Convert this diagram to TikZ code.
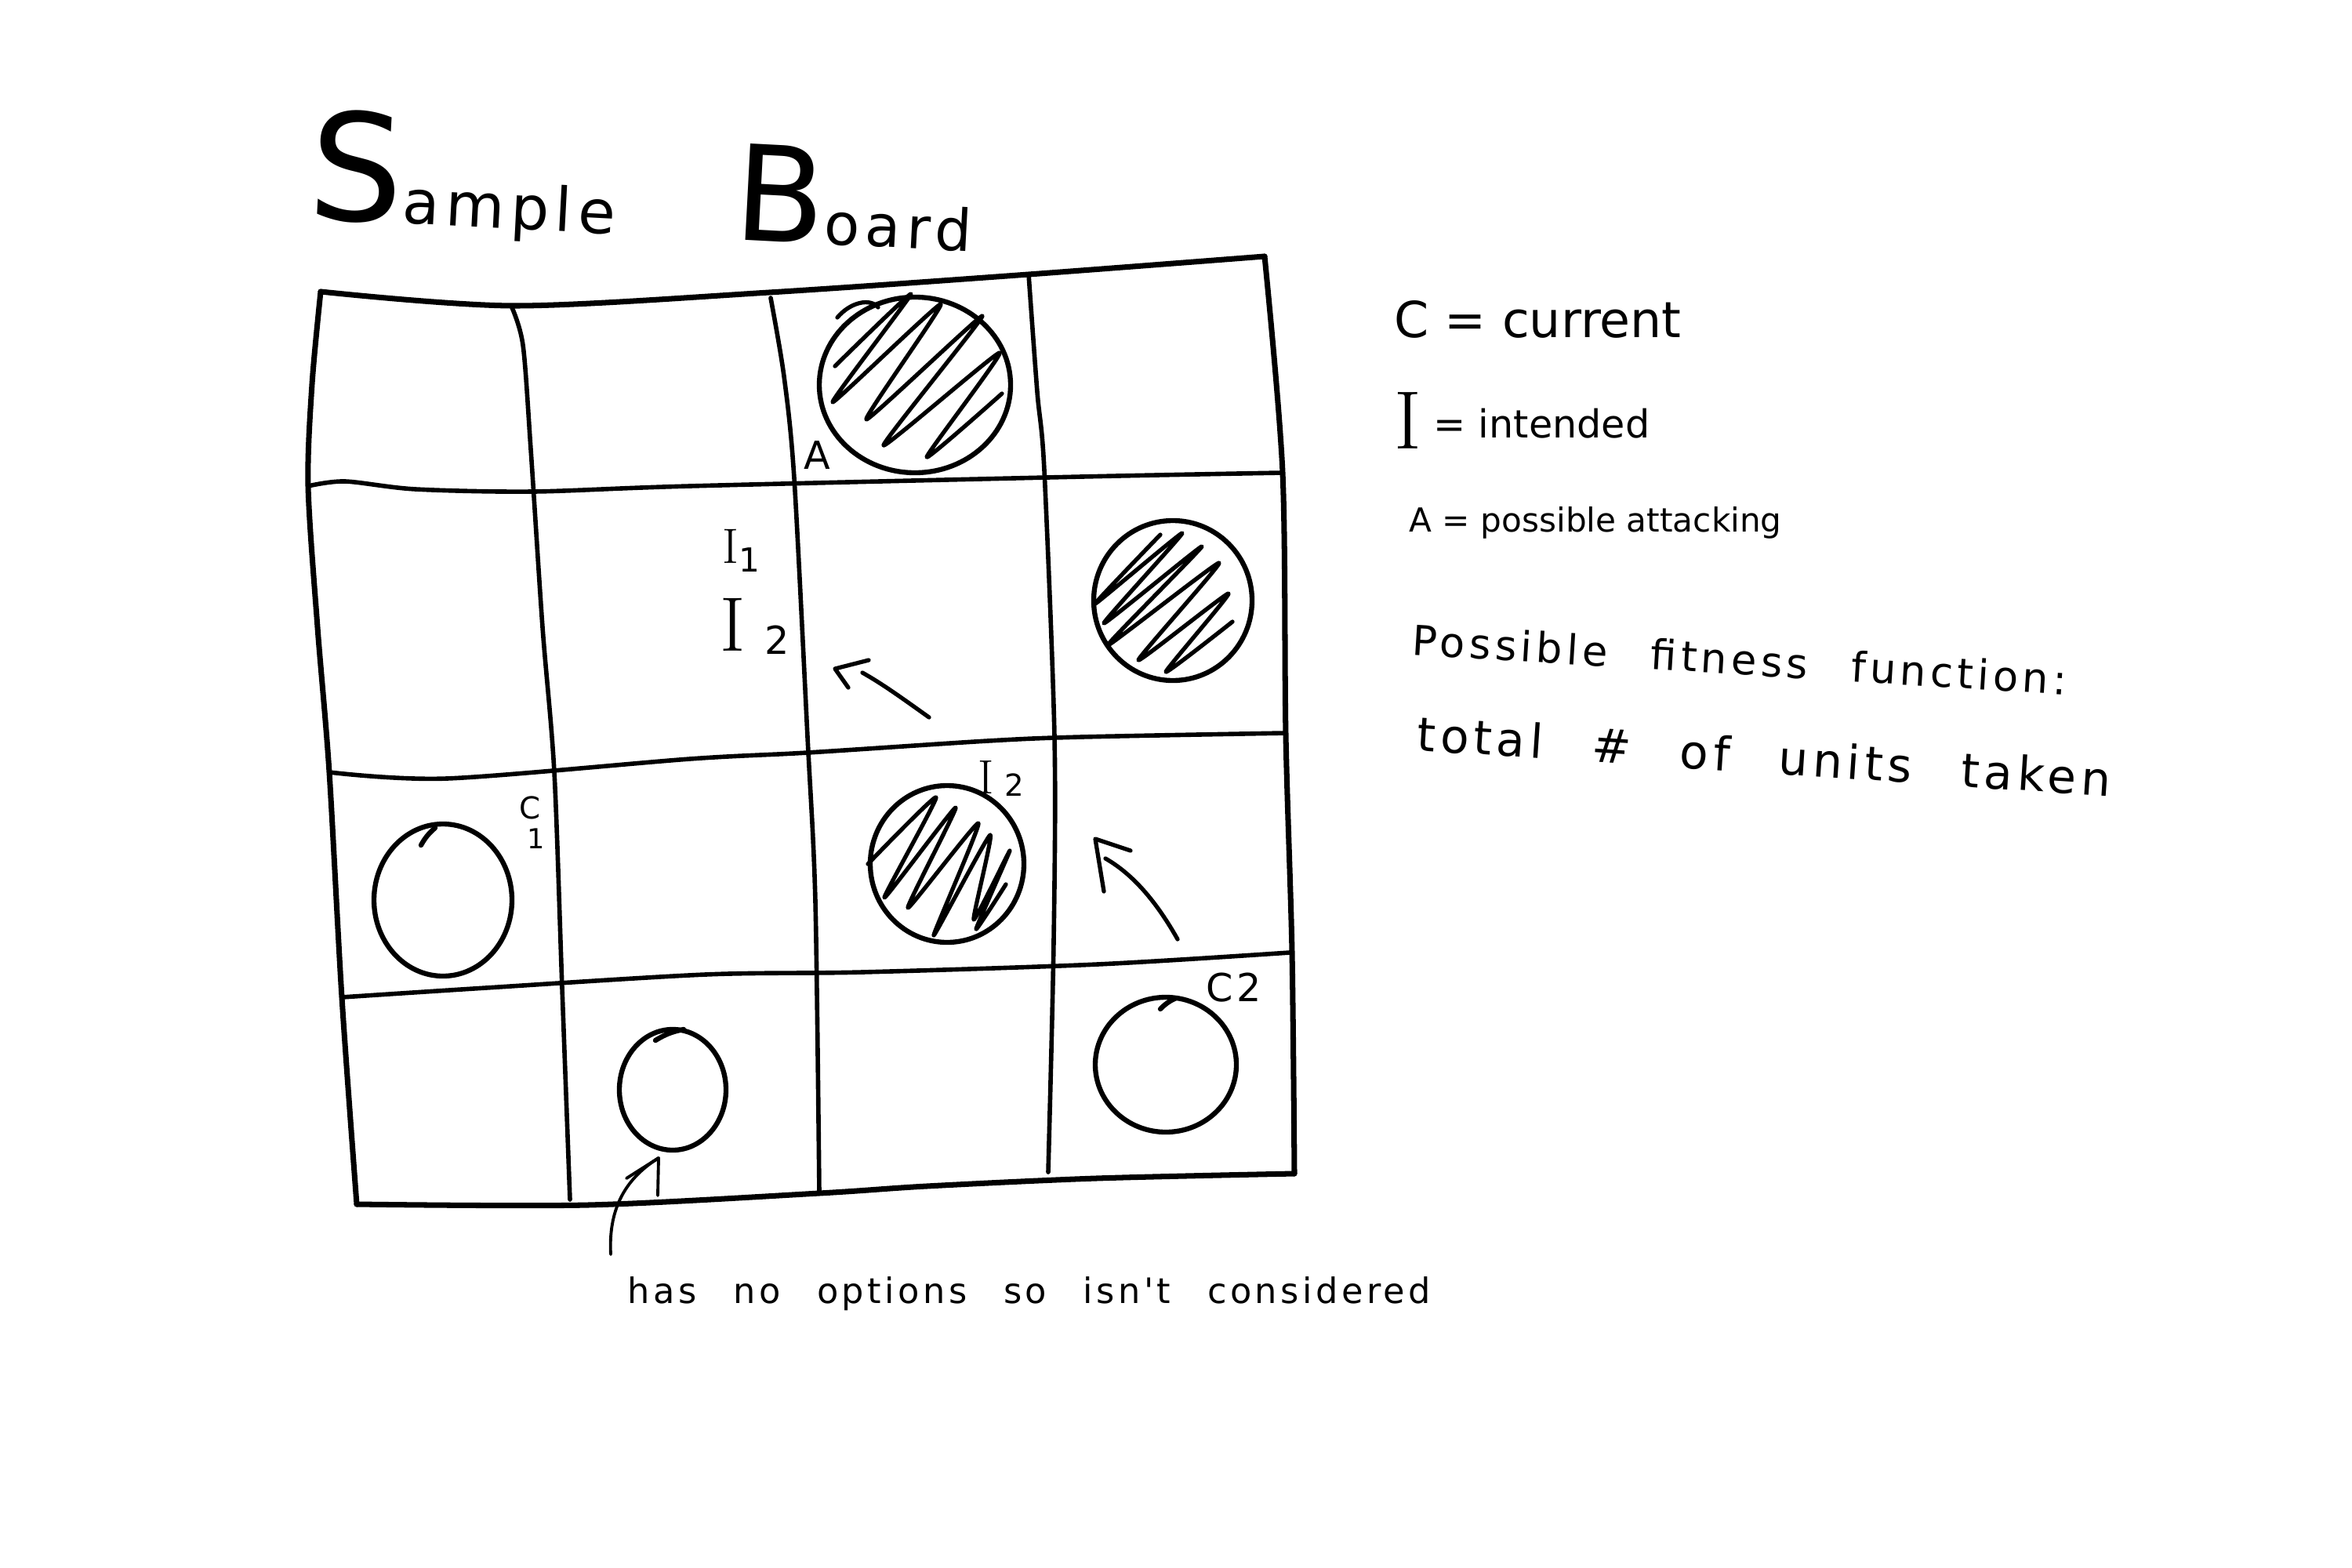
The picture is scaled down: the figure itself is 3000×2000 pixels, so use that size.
\documentclass[tikz,border=0pt]{standalone}
\usepackage{fontspec}
\newfontfamily\hw{DejaVu Sans}
\newfontfamily\hwsp[LetterSpace=10,WordSpace=2.5]{DejaVu Sans}
\newcommand{\fs}[1]{\fontsize{#1}{#1}\selectfont}
\tikzset{
  pen/.style={line cap=round,line join=round},
  frame/.style={pen,line width=2pt},
  gridline/.style={pen,line width=1.6pt},
  piece/.style={pen,line width=1.8pt},
  hatch/.style={pen,line width=1.5pt},
  arr/.style={pen,line width=1.5pt},
  txt/.style={inner sep=0pt,anchor=base west},
}
\begin{document}
\begin{tikzpicture}[x=0.01cm,y=-0.01cm]
\useasboundingbox (0,0) rectangle (3000,2000);
\fill[white] (0,0) rectangle (3000,2000);

% ---- title
\node[txt,rotate=-3,font=\hwsp] (tsample) at (391,278) {\fs{54}S\fs{22}ample};
\node[txt,rotate=-3,font=\hwsp] (tboard) at (934,305) {\fs{48}B\fs{21}oard};

% ---- board frame
\draw[frame] plot[smooth,tension=0.5] coordinates {(409,372) (656,390) (981,373) (1312,350) (1613,327)};
\draw[frame] plot[smooth,tension=0.5] coordinates {(1613,327) (1636,603) (1640,937) (1648,1215) (1651,1497)};
\draw[frame] plot[smooth,tension=0.5] coordinates {(455,1536) (750,1537) (1045,1522) (1182,1513) (1398,1503) (1651,1497)};
\draw[frame] plot[smooth,tension=0.5] coordinates {(409,372) (398,490) (393,620) (405,800) (420,985) (436,1272) (455,1536)};

% ---- grid
\draw[gridline] plot[smooth,tension=0.5] coordinates {(393,620) (440,614) (530,624) (680,627) (880,620) (1380,608) (1636,603)};
\draw[gridline] plot[smooth,tension=0.5] coordinates {(420,985) (570,993) (880,968) (1030,960) (1260,945) (1380,940) (1640,935)};
\draw[gridline] plot[smooth,tension=0.5] coordinates {(436,1272) (620,1260) (900,1243) (1100,1240) (1400,1230) (1645,1215)};
\draw[gridline] plot[smooth,tension=0.5] coordinates {(652,390) (667,440) (677,573) (692,800) (707,985) (717,1260) (727,1530)};
\draw[gridline] plot[smooth,tension=0.5] coordinates {(983,380) (1000,480) (1013,610) (1030,940) (1040,1150) (1045,1522)};
\draw[gridline] plot[smooth,tension=0.5] coordinates {(1312,350) (1323,500) (1332,600) (1345,940) (1344,1200) (1337,1495)};

% ---- pieces
\draw[piece] (1167,491) ellipse [x radius=122,y radius=112];
\draw[hatch] plot[smooth,tension=0.3] coordinates {(1065,467) (1162,375) (1062,513) (1200,388) (1105,535) (1253,403) (1127,568) (1275,450) (1182,583) (1278,502)};
\draw[hatch] (1068,405) .. controls (1085,385) and (1110,380) .. (1120,392);

\draw[piece] (1496,766) ellipse [x radius=101,y radius=102];
\draw[hatch] plot[smooth,tension=0.3] coordinates {(1480,682) (1397,770) (1508,680) (1408,795) (1533,697) (1413,823) (1555,718) (1452,842) (1567,757) (1487,857) (1572,793)};

\draw[piece] (1208,1102) ellipse [x radius=98,y radius=100];
\draw[hatch] plot[smooth,tension=0.3] coordinates {(1107,1102) (1194,1017) (1128,1145) (1219,1030) (1158,1158) (1248,1050) (1191,1193) (1263,1065) (1242,1173) (1288,1085) (1245,1185) (1283,1128)};

\draw[piece] (565,1148) ellipse [x radius=88,y radius=97];
\draw[piece] (537,1078) to[bend left=10] (555,1056);
\draw[piece] (858,1390) ellipse [x radius=68,y radius=77];
\draw[piece] (836,1327) to[bend left=10] (872,1313);
\draw[piece] (1487,1358) ellipse [x radius=90,y radius=86];
\draw[piece] (1480,1287) to[bend left=10] (1500,1273);

% ---- board labels
\node[txt,font=\hw\fs{14}] (lA) at (1025,598) {A};
\node[txt] (lI1) at (921,718) {{\rmfamily\fs{18}I}\raisebox{-3.4pt}{\hw\fs{12}1}};
\node[txt] (lI2a) at (918,830) {{\rmfamily\fs{28}I}\hspace{7pt}\raisebox{-1.4pt}{\hw\fs{14}2}};
\node[txt] (lI2b) at (1247,1012) {{\rmfamily\fs{17.5}I}\hspace{4pt}\raisebox{-1pt}{\hw\fs{11}2}};
\node[txt,font=\hw\fs{11}] (lC1) at (662,1044) {C};
\node[txt,font=\hw\fs{10}] (lC1b) at (672,1082) {1};
\node[txt,font=\hwsp\fs{14}] (lC2) at (1538,1277) {C2};

% ---- arrows
\coordinate (a1s) at (1185,915); \coordinate (a1e) at (1100,858); \coordinate (a1t) at (1065,853);
\draw[arr] (a1s) .. controls (1150,890) and (1125,872) .. (a1e);
\draw[arr] (1108,842) -- (a1t) -- (1082,877);

\coordinate (a2s) at (1502,1198); \coordinate (a2e) at (1410,1095); \coordinate (a2t) at (1397,1070);
\draw[arr] (a2s) .. controls (1475,1150) and (1445,1115) .. (a2e);
\draw[arr] (1442,1085) -- (a2t) -- (1408,1137);

\coordinate (a3s) at (779,1600); \coordinate (a3t) at (840,1477);
\draw[arr,line width=1.1pt] (a3s) .. controls (776,1545) and (795,1505) .. (a3t);
\draw[arr,line width=1.1pt] (799,1503) -- (a3t) -- (839,1525);

% ---- notes
\node[txt,font=\hwsp\fs{12.7}] (note) at (800,1662) {has no options so isn't considered};

\node[txt,font=\hw\fs{18}] (lgC) at (1778,430) {C = current};
\node[txt,font=\hw\fs{14}] (lgI) at (1778,558) {\raisebox{-4pt}{\rmfamily\fs{30}I} = intended};
\node[txt,font=\hw\fs{12}] (lgA) at (1797,678) {A = possible attacking};
\node[txt,rotate=-3.5,font=\hwsp\fs{15}] (fit1) at (1800,835) {Possible fitness function:};
\node[txt,rotate=-3.8,font=\hwsp\fs{17}] (fit2) at (1806,957) {total \# of units taken};
\end{tikzpicture}
\end{document}
